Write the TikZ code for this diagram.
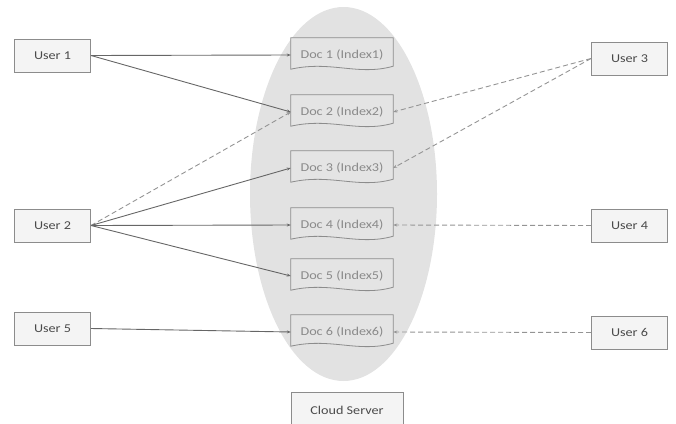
\documentclass[tikz,border=0pt]{standalone}
\usepackage{fontspec}
\setmainfont{Carlito}[FakeStretch=1.18]
\usetikzlibrary{arrows.meta}
\definecolor{boxline}{HTML}{8C8C8C}
\definecolor{boxfill}{HTML}{F4F4F4}
\definecolor{ellfill}{HTML}{E2E2E2}
\definecolor{docfill}{HTML}{E4E4E4}
\definecolor{usertext}{HTML}{4A4A4A}
\definecolor{doctext}{HTML}{8A8A8A}
\definecolor{solidline}{HTML}{666666}
\definecolor{dashline}{HTML}{949494}
\tikzset{
  userbox/.style={draw=boxline, fill=boxfill, line width=1pt, minimum width=76pt, minimum height=33pt, inner sep=0pt, text=usertext, font=\fontsize{12}{14}\selectfont},
  docbox/.style={minimum width=102pt, minimum height=34pt, inner sep=0pt, text=doctext, font=\fontsize{12}{14}\selectfont},
  link/.style={draw=solidline, line width=0.9pt, -{Stealth[length=4pt,width=3pt]}},
  dlink/.style={draw=dashline, line width=0.9pt, dash pattern=on 5pt off 3pt, -{Stealth[length=4pt,width=3pt]}},
}
\newcommand{\docshape}[1]{%
  \draw[draw=boxline, fill=docfill, line width=0.8pt]
    (#1.north west) -- (#1.north east) -- ([yshift=6pt]#1.south east)
    .. controls ([xshift=-35pt,yshift=-4pt]#1.south east) and ([xshift=40pt,yshift=12pt]#1.south west) .. ([yshift=3pt]#1.south west) -- cycle;
}
\begin{document}
\begin{tikzpicture}[x=1pt,y=-1pt]
\useasboundingbox (0,0) rectangle (676,423);
\fill[ellfill] (343.5,194) ellipse [x radius=93.5, y radius=187];

\node[docbox] (d1) at (342,55) {};
\node[docbox] (d2) at (342,112) {};
\node[docbox] (d3) at (342,168) {};
\node[docbox] (d4) at (342,225) {};
\node[docbox] (d5) at (342,276) {};
\node[docbox] (d6) at (342,332) {};
\docshape{d1}\docshape{d2}\docshape{d3}\docshape{d4}\docshape{d5}\docshape{d6}
\node[docbox] at (d1) {Doc 1 (Index1)};
\node[docbox] at (d2) {Doc 2 (Index2)};
\node[docbox] at (d3) {Doc 3 (Index3)};
\node[docbox] at (d4) {Doc 4 (Index4)};
\node[docbox] at (d5) {Doc 5 (Index5)};
\node[docbox] at (d6) {Doc 6 (Index6)};

\node[userbox] (u1) at (52.5,55.5) {User 1};
\node[userbox] (u2) at (52.5,225.5) {User 2};
\node[userbox] (u5) at (52.5,328.5) {User 5};
\node[userbox] (u3) at (629.5,58.5) {User 3};
\node[userbox] (u4) at (629.5,225.5) {User 4};
\node[userbox] (u6) at (629.5,332.5) {User 6};

\node[userbox, minimum width=112pt, minimum height=36pt, anchor=north] (cs) at (347,392) {Cloud Server};

\draw[link] (u1.east) -- (d1.west);
\draw[link] (u1.east) -- (d2.west);
\draw[dlink] (u2.east) -- (d2.west);
\draw[link] (u2.east) -- (d3.west);
\draw[link] (u2.east) -- (d4.west);
\draw[link] (u2.east) -- (d5.west);
\draw[link] (u5.east) -- (d6.west);
\draw[dlink] (u3.west) -- (d2.east);
\draw[dlink] (u3.west) -- (d3.east);
\draw[dlink] (u4.west) -- (d4.east);
\draw[dlink] (u6.west) -- (d6.east);
\end{tikzpicture}
\end{document}
